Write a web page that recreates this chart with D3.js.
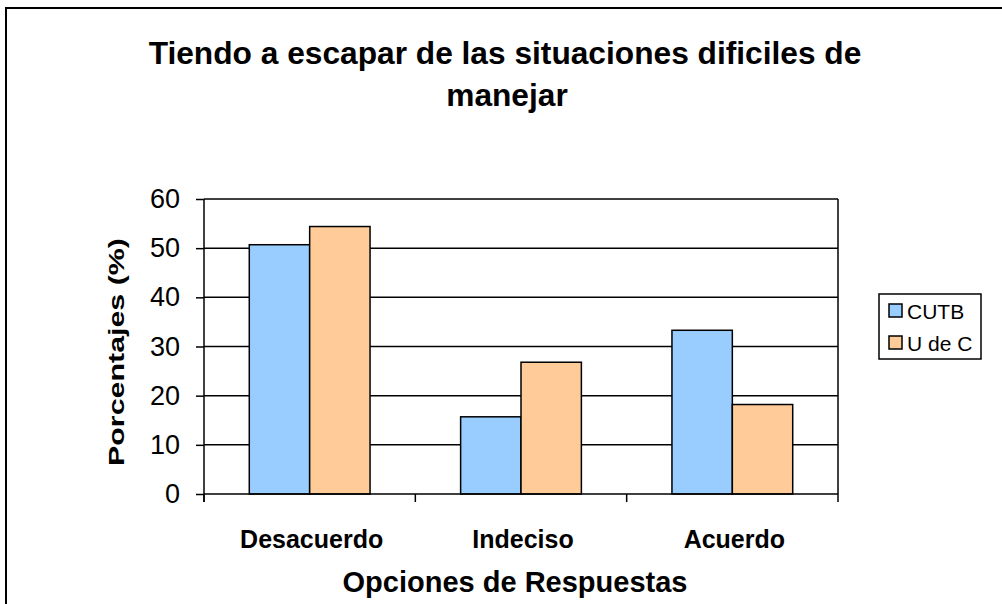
<!DOCTYPE html>
<html>
<head>
<meta charset="utf-8">
<script src="https://cdn.jsdelivr.net/npm/d3@7/dist/d3.min.js"></script>
<style>
  html, body { margin: 0; padding: 0; background: #fff; }
  svg { display: block; font-family: "Liberation Sans", Arial, sans-serif; }
</style>
</head>
<body>
<div class="chart"></div>
<script>
const categories = ["Desacuerdo", "Indeciso", "Acuerdo"];
const seriesNames = ["CUTB", "U de C"];
const cutbValues = [50.7, 15.7, 33.3];
const udecValues = [54.4, 26.8, 18.2];
const yTicks = [0, 10, 20, 30, 40, 50, 60];
const seriesColors = ["#99CCFF", "#FFCC99"];

const width = 1002, height = 604;
const plot = { left: 204, right: 838, top: 199, bottom: 494 };

const svg = d3.select(".chart").append("svg")
    .attr("width", width)
    .attr("height", height);

// chart area border (runs off the right and bottom of the picture)
svg.append("rect")
    .attr("x", 6).attr("y", 8)
    .attr("width", 1100).attr("height", 700)
    .attr("fill", "#fff")
    .attr("stroke", "#000")
    .attr("stroke-width", 2);

const x0 = d3.scaleBand()
    .domain(categories)
    .range([plot.left, plot.right]);

const x1 = d3.scaleBand()
    .domain(seriesNames)
    .range([0, x0.bandwidth()])
    .paddingOuter(0.75);

const y = d3.scaleLinear()
    .domain([0, 60])
    .range([plot.bottom, plot.top]);

const color = d3.scaleOrdinal()
    .domain(seriesNames)
    .range(seriesColors);

// gridlines
svg.append("g")
    .selectAll("line")
    .data(yTicks.filter(d => d > 0))
    .enter().append("line")
    .attr("x1", plot.left).attr("x2", plot.right)
    .attr("y1", d => y(d)).attr("y2", d => y(d))
    .attr("stroke", "#000")
    .attr("stroke-width", 1.5);

// right border of plot area
svg.append("line")
    .attr("x1", plot.right).attr("x2", plot.right)
    .attr("y1", plot.top).attr("y2", plot.bottom)
    .attr("stroke", "#000")
    .attr("stroke-width", 1.5);

// bars
const rows = categories.map((c, i) => ({ cat: c, vals: [cutbValues[i], udecValues[i]] }));

svg.append("g")
    .selectAll("g")
    .data(rows)
    .enter().append("g")
    .attr("transform", d => `translate(${x0(d.cat)},0)`)
    .selectAll("rect")
    .data(d => d.vals.map((v, j) => ({ name: seriesNames[j], value: v })))
    .enter().append("rect")
    .attr("x", d => x1(d.name))
    .attr("width", x1.bandwidth())
    .attr("y", d => y(d.value))
    .attr("height", d => y(0) - y(d.value))
    .attr("fill", d => color(d.name))
    .attr("stroke", "#000")
    .attr("stroke-width", 1.5);

// y axis
const yAxis = svg.append("g")
    .attr("transform", `translate(${plot.left},0)`)
    .call(d3.axisLeft(y)
        .tickValues(yTicks)
        .tickSize(8)
        .tickPadding(16));
yAxis.selectAll("text")
    .attr("font-size", 27)
    .attr("font-family", "Liberation Sans, Arial, sans-serif")
    .attr("fill", "#000");
yAxis.selectAll("line, path").attr("stroke", "#000").attr("stroke-width", 1.5);
yAxis.select(".domain").attr("d", `M0,${plot.top}V${plot.bottom + 8}`);

// x axis line + boundary ticks
svg.append("line")
    .attr("x1", plot.left).attr("x2", plot.right)
    .attr("y1", plot.bottom).attr("y2", plot.bottom)
    .attr("stroke", "#000")
    .attr("stroke-width", 1.5);

const bounds = categories.map(c => x0(c)).concat([x0(categories[categories.length - 1]) + x0.bandwidth()]);
svg.append("g")
    .selectAll("line")
    .data(bounds)
    .enter().append("line")
    .attr("x1", d => d).attr("x2", d => d)
    .attr("y1", plot.bottom).attr("y2", plot.bottom + 8)
    .attr("stroke", "#000")
    .attr("stroke-width", 1.5);

// category labels
svg.append("g")
    .selectAll("text")
    .data(categories)
    .enter().append("text")
    .attr("x", d => x0(d) + x0.bandwidth() / 2 + 2)
    .attr("y", 548)
    .attr("text-anchor", "middle")
    .attr("font-size", 25)
    .attr("font-weight", "bold")
    .text(d => d);

// titles
const title = svg.append("text")
    .attr("text-anchor", "middle")
    .attr("font-size", 31.7)
    .attr("font-weight", "bold");
title.append("tspan").attr("x", 505).attr("y", 64)
    .text("Tiendo a escapar de las situaciones dificiles de");
title.append("tspan").attr("x", 507).attr("y", 106)
    .text("manejar");

svg.append("text")
    .attr("x", 515).attr("y", 592)
    .attr("text-anchor", "middle")
    .attr("font-size", 29)
    .attr("font-weight", "bold")
    .text("Opciones de Respuestas");

// rotated axis title, stretched along its length like the original
const yTitle = svg.append("text")
    .attr("text-anchor", "middle")
    .attr("font-size", 22)
    .attr("font-weight", "bold")
    .text("Porcentajes (%)");
const natural = yTitle.node().getComputedTextLength();
yTitle.attr("transform", `translate(124,352) rotate(-90) scale(${228 / natural},1)`);

// legend
const legend = svg.append("g").attr("transform", "translate(879,294)");
legend.append("rect")
    .attr("width", 102).attr("height", 65)
    .attr("fill", "#fff")
    .attr("stroke", "#000")
    .attr("stroke-width", 1.5);

const items = legend.selectAll("g.item")
    .data(seriesNames)
    .enter().append("g")
    .attr("class", "item")
    .attr("transform", (d, i) => `translate(10,${10 + i * 32})`);
items.append("rect")
    .attr("width", 13).attr("height", 13)
    .attr("fill", d => color(d))
    .attr("stroke", "#000")
    .attr("stroke-width", 1.5);
items.append("text")
    .attr("x", 18).attr("y", 15)
    .attr("font-size", 21)
    .text(d => d);
</script>
</body>
</html>
